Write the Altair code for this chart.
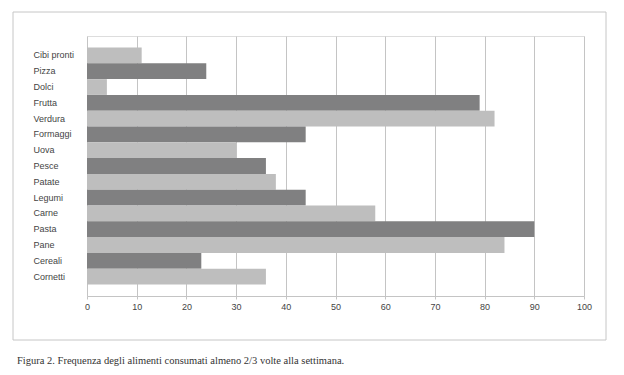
import altair as alt
import pandas as pd

categories = ["Cibi pronti", "Pizza", "Dolci", "Frutta", "Verdura", "Formaggi", "Uova",
              "Pesce", "Patate", "Legumi", "Carne", "Pasta", "Pane", "Cereali", "Cornetti"]
values = [11, 24, 4, 79, 82, 44, 30, 36, 38, 44, 58, 90, 84, 23, 36]
shades = ["light", "dark"] * 7 + ["light"]
x_ticks = [0, 10, 20, 30, 40, 50, 60, 70, 80, 90, 100]
caption = "Figura 2. Frequenza degli alimenti consumati almeno 2/3 volte alla settimana."

df = pd.DataFrame({"cat": categories, "val": values, "shade": shades})

bars = alt.Chart(df).mark_bar(stroke=None).encode(
    y=alt.Y("cat:N", sort=None, title=None,
            scale=alt.Scale(paddingInner=0, paddingOuter=0.73),
            axis=alt.Axis(labelAlign="left", labelPadding=54, ticks=False, tickSize=0,
                          domain=False, grid=False, labelFontSize=9,
                          labelFont="Liberation Sans", labelColor="#444444")),
    x=alt.X("val:Q", title=None,
            scale=alt.Scale(domain=[0, 100], nice=False),
            axis=alt.Axis(values=x_ticks, grid=True, gridColor="#c4c4c4", gridWidth=1,
                          domain=True, domainColor="#c4c4c4", tickColor="#c4c4c4",
                          tickSize=3, labelFontSize=9, labelFont="Liberation Sans",
                          labelColor="#444444", labelPadding=3, labelFlush=False)),
    color=alt.Color("shade:N", legend=None,
                    scale=alt.Scale(domain=["light", "dark"], range=["#bebebe", "#808081"])),
)

one = pd.DataFrame({"a": [0]})

frame = alt.Chart(one).mark_rect(fill=None, stroke="#c6c6c6", strokeWidth=1).encode(
    x=alt.value(-74), x2=alt.value(519), y=alt.value(-24), y2=alt.value(304)
)

cap = alt.Chart(one).mark_text(align="left", baseline="alphabetic", fontSize=10.5,
                               font="Liberation Serif", color="#333333").encode(
    x=alt.value(-70), y=alt.value(328), text=alt.value(caption)
)

chart = alt.layer(frame, bars, cap).properties(
    width=497, height=260,
    autosize=alt.AutoSizeParams(type="none"),
    padding={"left": 79, "top": 28, "right": 30, "bottom": 70},
).configure_view(stroke=None).configure(background="white")

chart.save("out.html", embed_options={"renderer": "svg", "actions": False})
